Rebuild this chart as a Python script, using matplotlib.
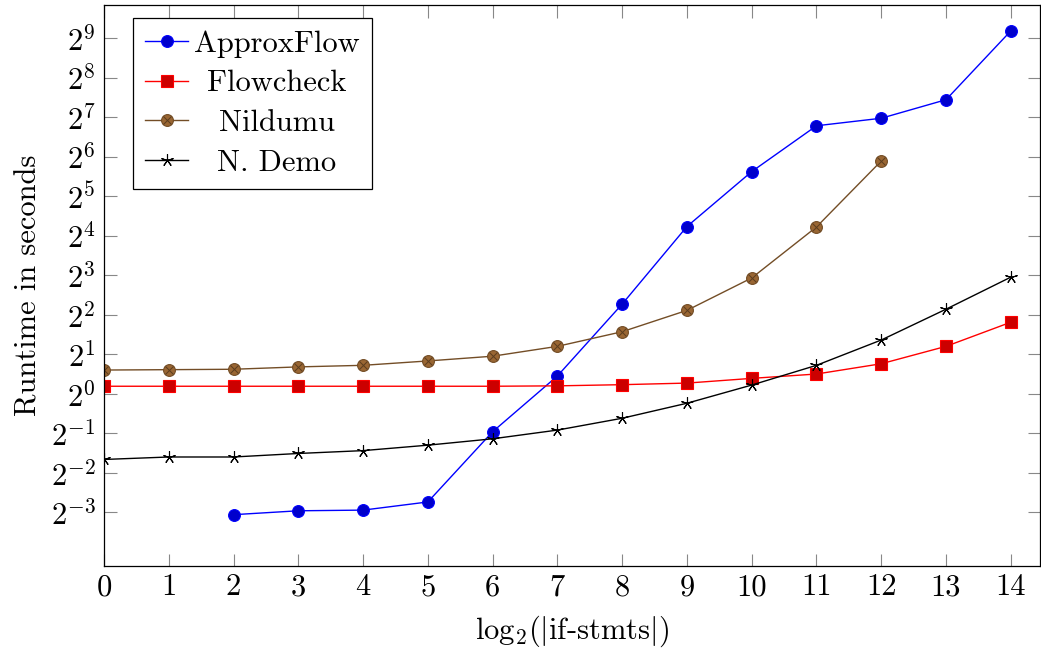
import matplotlib
matplotlib.use("Agg")
import matplotlib.pyplot as plt

plt.rcParams["font.family"] = ["cmr10"]
plt.rcParams["mathtext.fontset"] = "cm"
plt.rcParams["axes.unicode_minus"] = False
plt.rcParams["axes.formatter.use_mathtext"] = True

# runtimes in seconds
approx_x = [2, 3, 4, 5, 6, 7, 8, 9, 10, 11, 12, 13, 14]
approx_y = [0.120, 0.1285, 0.130, 0.150, 0.514, 1.366, 4.82, 18.78, 49.2, 109.9, 125.4, 173.6, 580]

flow_x = list(range(0, 15))
flow_y = [1.141, 1.141, 1.141, 1.141, 1.141, 1.141, 1.141, 1.149, 1.173, 1.206, 1.310, 1.414, 1.693, 2.297, 3.506]

nil_x = list(range(0, 13))
nil_y = [1.516, 1.526, 1.537, 1.602, 1.647, 1.778, 1.932, 2.297, 2.969, 4.317, 7.62, 18.64, 59.3]

demo_x = list(range(0, 15))
demo_y = [0.316, 0.330, 0.330, 0.351, 0.369, 0.406, 0.454, 0.529, 0.651, 0.847, 1.165, 1.647, 2.567, 4.407, 7.73]

x_ticks = list(range(0, 15))
y_exps = list(range(-3, 10))

FS = 22

fig = plt.figure(figsize=(10.41, 6.51), dpi=100)
ax = fig.add_axes([0.0999, 0.131, 0.8991, 0.861])

l1, = ax.plot(approx_x, approx_y, color="#0000ff", lw=1.0, marker="o", ms=8.5,
              mfc="#0000cc", mec="#0000ff", mew=0.8, label="ApproxFlow")
l2, = ax.plot(flow_x, flow_y, color="#ff0000", lw=1.0, marker="s", ms=8.0,
              mfc="#cc0000", mec="#ff0000", mew=0.8, label="Flowcheck")
l3, = ax.plot(nil_x, nil_y, color="#734d26", lw=1.0, marker="o", ms=8.5,
              mfc="#996633", mec="#734d26", mew=0.8, label="Nildumu")
l3x, = ax.plot(nil_x, nil_y, ls="none", marker="x", ms=5.5, mec="#5a3c1e", mew=0.7)
l4, = ax.plot(demo_x, demo_y, color="black", lw=1.0, marker=(5, 2, 0), ms=9,
              mec="black", mew=0.8, label="N. Demo")

ax.set_yscale("log", base=2)
ax.set_xlim(0, 14.45)
ax.set_ylim(2 ** -4.35, 2 ** 9.83)
ax.set_xticks(x_ticks)
ax.set_xticklabels([str(v) for v in x_ticks])
ax.set_yticks([2.0 ** e for e in y_exps])
ax.set_yticklabels([r"$2^{%d}$" % e for e in y_exps])
ax.minorticks_off()

ax.tick_params(which="major", direction="in", length=9, width=0.8, color="#888888",
               labelsize=FS, top=True, right=True, pad=6)
for s in ax.spines.values():
    s.set_linewidth(0.9)
    s.set_color("black")

ax.set_xlabel(r"$\mathrm{log}_2(|$if-stmts$|)$", fontsize=FS, labelpad=9)
ax.set_ylabel("Runtime in seconds", fontsize=FS, labelpad=6)

leg = ax.legend([l1, l2, (l3, l3x), l4], ["ApproxFlow", "Flowcheck", "Nildumu", "N. Demo"],
                loc="upper left", bbox_to_anchor=(0.031, 0.977), borderaxespad=0,
                fontsize=FS, numpoints=1, handlelength=1.4, handletextpad=0.2,
                labelspacing=0.4, borderpad=0.4, fancybox=False, framealpha=1,
                edgecolor="black")
leg.get_frame().set_linewidth(0.9)

# centre the legend texts like pgfplots does
fig.canvas.draw()
r = fig.canvas.get_renderer()
widths = [t.get_window_extent(r).width for t in leg.get_texts()]
wmax = max(widths)
for t, w in zip(leg.get_texts(), widths):
    t.set_position(((wmax - w) / 2, 0))

fig.savefig("out.png", dpi=100)
